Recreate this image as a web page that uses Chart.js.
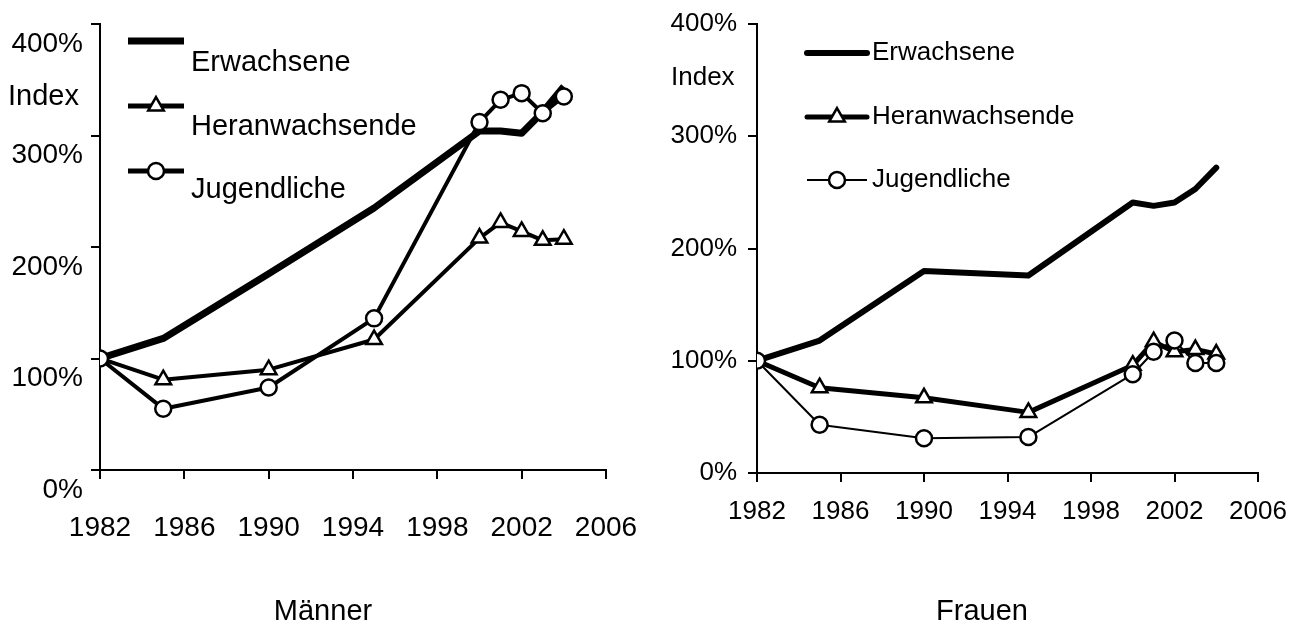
<!DOCTYPE html>
<html>
<head>
<meta charset="utf-8">
<script src="https://cdn.jsdelivr.net/npm/chart.js@4"></script>
<style>
  body { margin: 0; background: #fff; }
  #wrap { position: relative; width: 1290px; height: 628px; }
  .box { position: absolute; top: 0; width: 645px; height: 628px; }
</style>
</head>
<body>
<div id="wrap">
  <div class="box" style="left:0"><canvas id="men-chart"></canvas></div>
  <div class="box" style="left:645px"><canvas id="women-chart"></canvas></div>
</div>
<script>
const years = [1982, 1985, 1990, 1995, 2000, 2001, 2002, 2003, 2004];
const seriesNames = ["Erwachsene", "Heranwachsende", "Jugendliche"];
const yTicks = [0, 100, 200, 300, 400];
const xTicks = [1982, 1986, 1990, 1994, 1998, 2002, 2006];

// Männer
const erwMen = [100, 118, 176, 235, 304, 304, 302, 321, 344];
const herMen = [100, 81, 90, 117, 208, 222, 214, 206, 207];
const jugMen = [100, 55, 74, 136, 312, 332, 338, 320, 335];

// Frauen
const erwWomen = [100, 118, 180, 176, 241, 238, 241, 253, 272];
const herWomen = [100, 76, 67, 54, 96, 117, 108, 110, 106];
const jugWomen = [100, 43, 31, 32, 88, 108, 118, 98, 98];

const FONT = "'Liberation Sans', Arial, sans-serif";
Chart.defaults.font.family = FONT;
Chart.defaults.color = "#000";

function points(values) {
  return years.map((y, i) => ({ x: y, y: values[i] }));
}

// legend, "Index" and panel title drawn on the canvas
const extras = {
  id: "extras",
  afterDraw(chart, args, opts) {
    const ctx = chart.ctx;
    ctx.save();
    chart.data.datasets.forEach((ds, i) => {
      const lg = opts.legend[i];
      ctx.beginPath();
      ctx.lineWidth = lg.lw;
      ctx.lineCap = lg.cap;
      ctx.strokeStyle = "#000";
      ctx.moveTo(lg.x0, lg.y);
      ctx.lineTo(lg.x1, lg.y);
      ctx.stroke();
      if (ds.pointRadius > 0) {
        ctx.fillStyle = "#fff";
        ctx.strokeStyle = "#000";
        ctx.lineWidth = ds.pointBorderWidth;
        Chart.helpers.drawPoint(ctx, {
          pointStyle: ds.pointStyle,
          radius: ds.pointRadius,
          rotation: 0,
          borderWidth: ds.pointBorderWidth,
        }, (lg.x0 + lg.x1) / 2, lg.y);
      }
      ctx.fillStyle = "#000";
      ctx.font = opts.fontSize + "px " + FONT;
      ctx.textAlign = "left";
      ctx.textBaseline = "middle";
      ctx.fillText(ds.label, lg.tx, lg.ty);
    });
    ctx.font = opts.fontSize + "px " + FONT;
    ctx.textAlign = "left";
    ctx.fillText("Index", opts.index.x, opts.index.y);
    ctx.font = opts.titleSize + "px " + FONT;
    ctx.textAlign = "center";
    ctx.fillText(opts.title.text, opts.title.x, opts.title.y);
    ctx.restore();
  },
};

function makeChart(id, data, p) {
  const styles = [
    { lw: p.lineWidths[0], pr: 0, ps: "circle" },
    { lw: p.lineWidths[1], pr: 9, ps: "triangle" },
    { lw: p.lineWidths[2], pr: 8, ps: "circle" },
  ];
  new Chart(document.getElementById(id), {
    type: "line",
    data: {
      datasets: data.map((vals, i) => ({
        label: seriesNames[i],
        data: points(vals),
        borderColor: "#000",
        borderWidth: styles[i].lw,
        borderJoinStyle: "round",
        borderCapStyle: i === 0 ? p.erwCap : "butt",
        pointStyle: styles[i].ps,
        pointRadius: styles[i].pr,
        pointBorderWidth: 2.5,
        pointBackgroundColor: "#fff",
        pointBorderColor: "#000",
        tension: 0,
        order: 3 - i,
      })),
    },
    options: {
      animation: false,
      responsive: true,
      maintainAspectRatio: false,
      layout: { padding: { top: 24, right: p.padRight, left: 0, bottom: 0 } },
      plugins: {
        legend: { display: false },
        tooltip: { enabled: false },
        extras: p.extras,
      },
      scales: {
        x: {
          type: "linear",
          min: xTicks[0],
          max: xTicks[xTicks.length - 1],
          afterBuildTicks: (s) => { s.ticks = xTicks.map((v) => ({ value: v })); },
          ticks: { padding: p.xPad, font: { size: p.fontSize }, callback: (v) => String(v) },
          grid: { drawOnChartArea: false, tickLength: 9, color: "#000", lineWidth: 2 },
          border: { color: "#000", width: 2 },
          afterFit: (s) => {
            s.height = p.xHeight;
            s.paddingLeft = 0;
            s.paddingRight = 0;
          },
        },
        y: {
          min: yTicks[0],
          max: yTicks[yTicks.length - 1],
          afterBuildTicks: (s) => { s.ticks = yTicks.map((v) => ({ value: v })); },
          ticks: { padding: p.yPad, labelOffset: p.labelOffset, font: { size: p.fontSize }, callback: (v) => v + "%" },
          grid: { drawOnChartArea: false, tickLength: 9, color: "#000", lineWidth: 2 },
          border: { color: "#000", width: 2 },
          afterFit: (s) => {
            s.width = p.yWidth;
            s.paddingTop = 0;
            s.paddingBottom = 0;
          },
        },
      },
    },
    plugins: [extras],
  });
}

makeChart("men-chart", [erwMen, herMen, jugMen], {
  lineWidths: [7, 4, 4],
  erwCap: "butt",
  padRight: 39,
  xPad: 32,
  xHeight: 158,
  yPad: 8,
  yWidth: 100,
  labelOffset: 20,
  fontSize: 28,
  extras: {
    fontSize: 29,
    titleSize: 29,
    legend: [
      { x0: 128, x1: 184, y: 41, lw: 7, cap: "butt", tx: 191, ty: 63 },
      { x0: 128, x1: 184, y: 106, lw: 5, cap: "butt", tx: 191, ty: 127 },
      { x0: 128, x1: 184, y: 171, lw: 5, cap: "butt", tx: 191, ty: 190 },
    ],
    index: { x: 8, y: 97 },
    title: { text: "Männer", x: 323, y: 612 },
  },
});

makeChart("women-chart", [erwWomen, herWomen, jugWomen], {
  lineWidths: [6, 5, 2],
  erwCap: "round",
  padRight: 32,
  xPad: 14,
  xHeight: 155,
  yPad: 11,
  yWidth: 112,
  labelOffset: 0,
  fontSize: 26,
  extras: {
    fontSize: 26,
    titleSize: 29,
    legend: [
      { x0: 162, x1: 222, y: 53, lw: 6, cap: "round", tx: 227, ty: 53 },
      { x0: 162, x1: 222, y: 117, lw: 5, cap: "round", tx: 227, ty: 117 },
      { x0: 162, x1: 222, y: 180, lw: 2, cap: "butt", tx: 227, ty: 180 },
    ],
    index: { x: 26, y: 78 },
    title: { text: "Frauen", x: 337, y: 612 },
  },
});
</script>
</body>
</html>
